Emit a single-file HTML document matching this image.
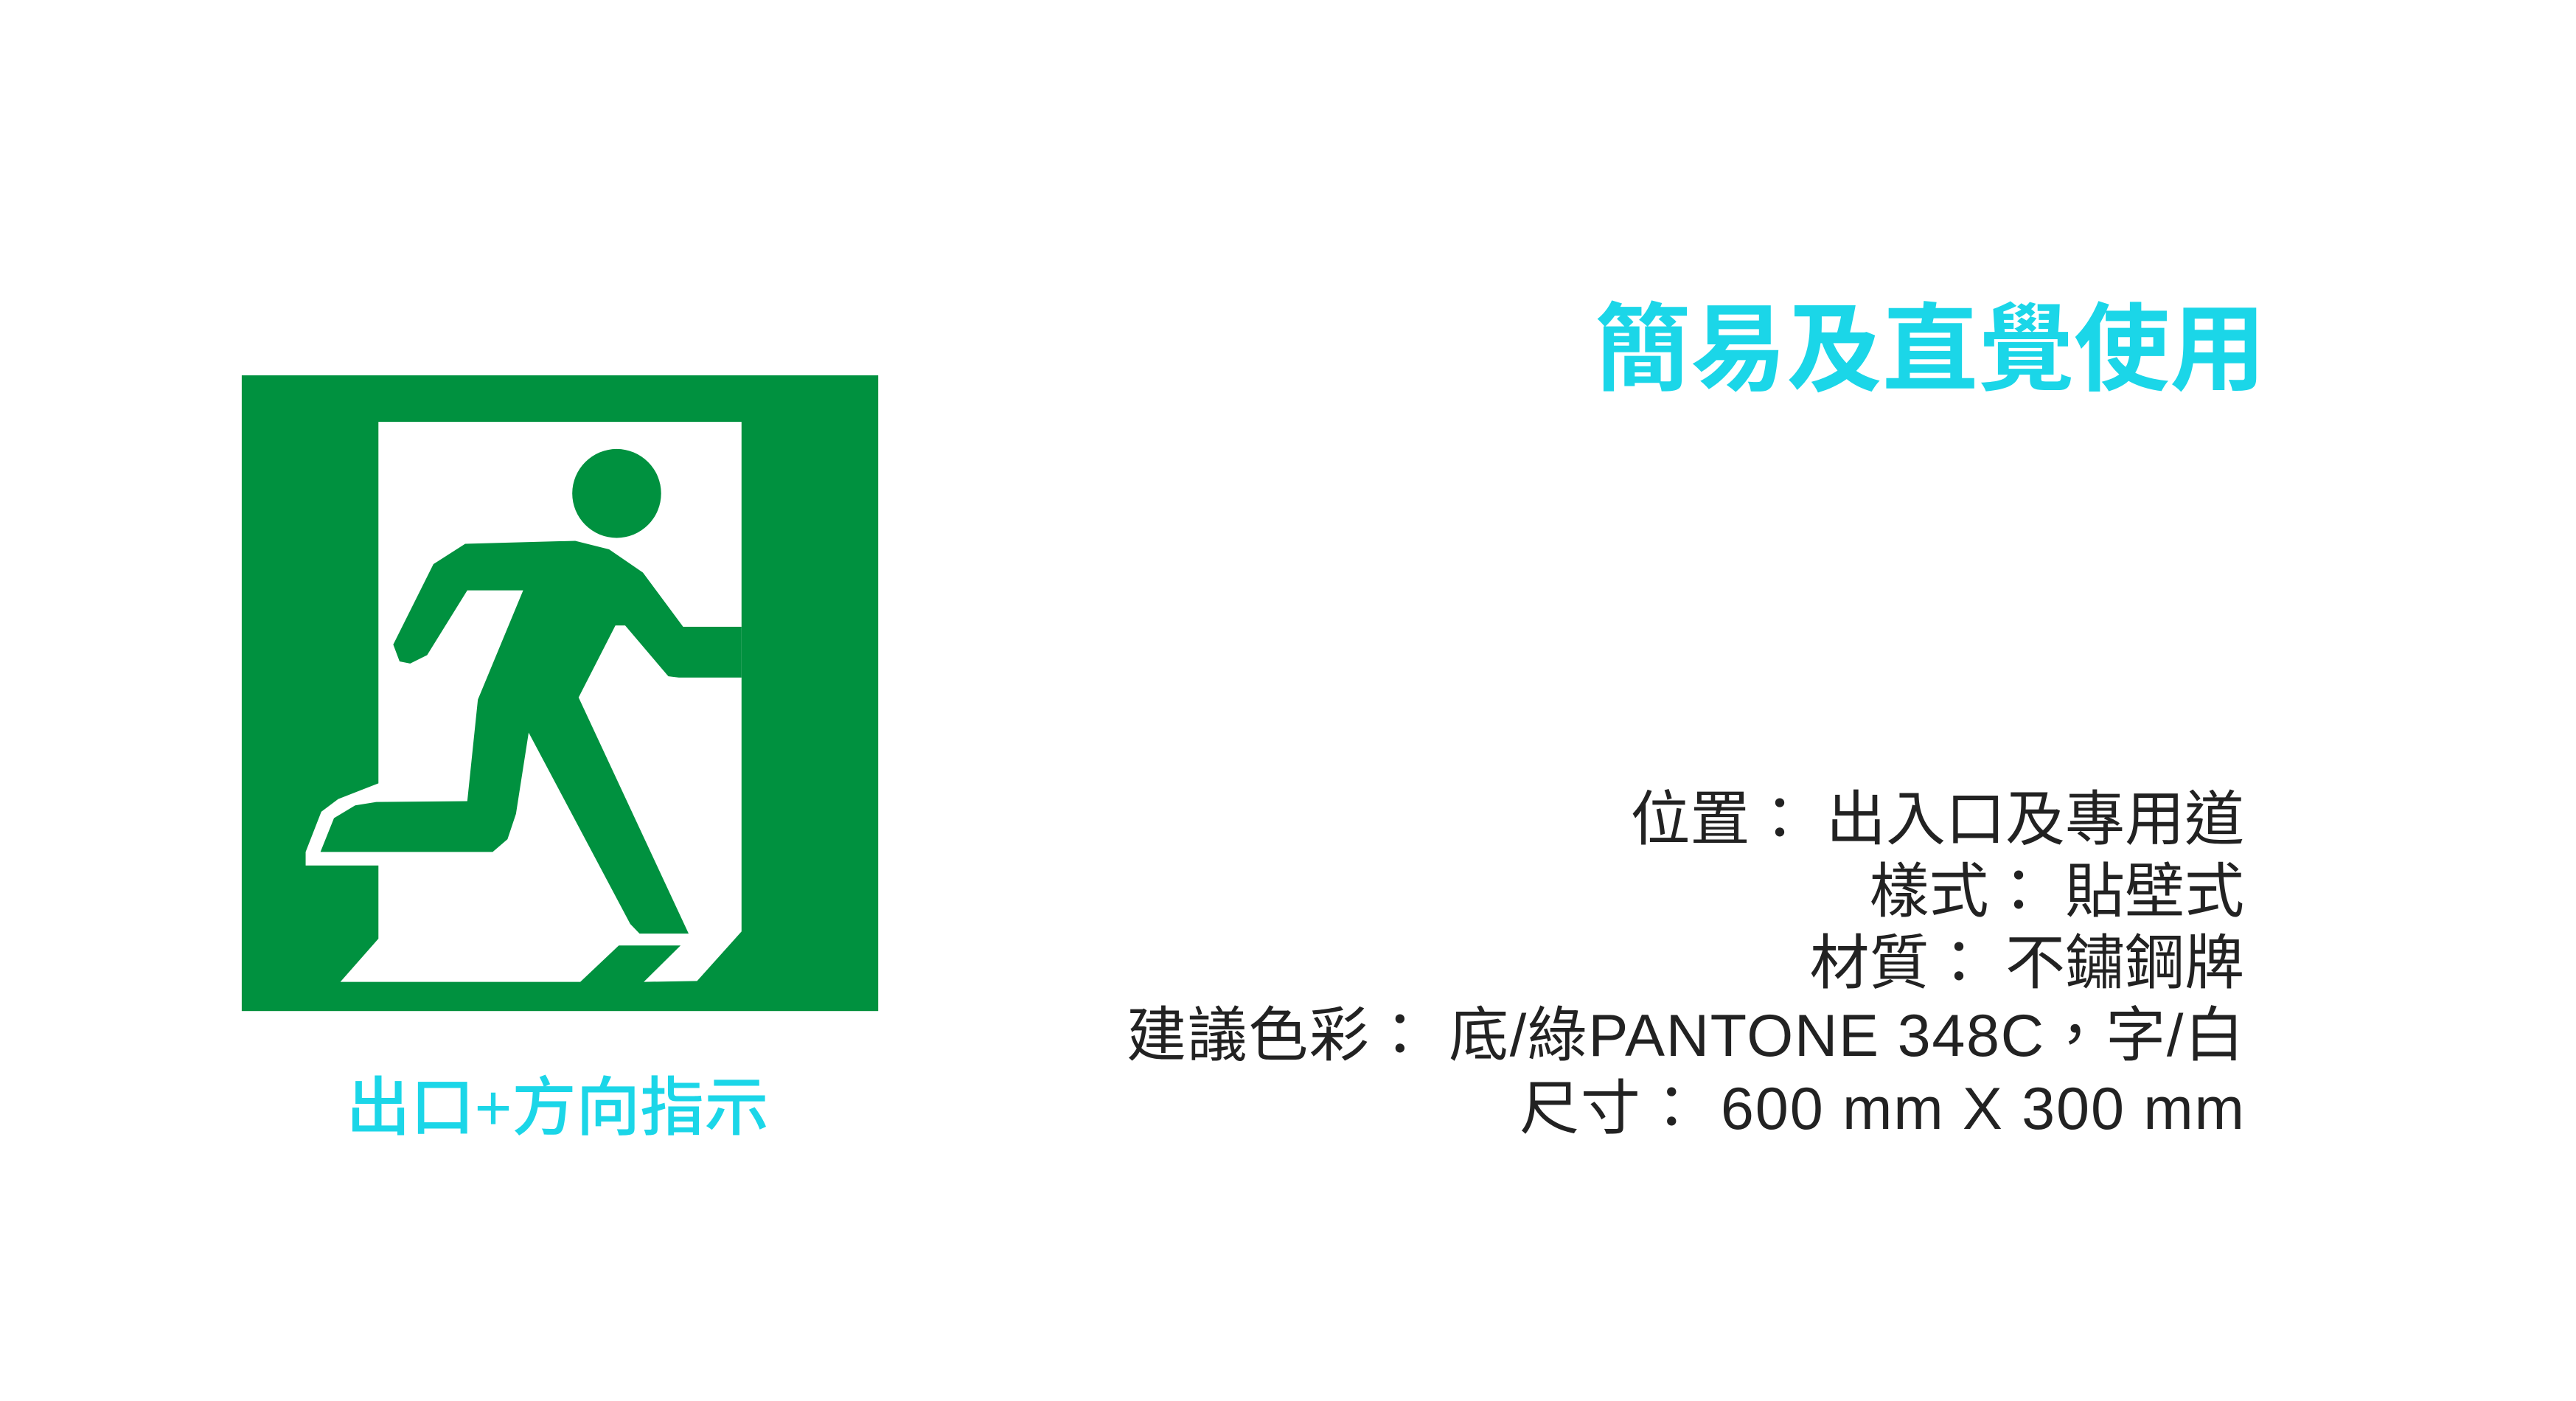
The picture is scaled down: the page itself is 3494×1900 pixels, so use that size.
<!DOCTYPE html>
<html><head><meta charset="utf-8"><style>html,body{margin:0;padding:0;background:#fff}svg{display:block}</style></head>
<body>
<svg width="3494" height="1900" viewBox="0 0 3494 1900" xmlns="http://www.w3.org/2000/svg">
<rect width="3494" height="1900" fill="#fff"/>
<g transform="translate(321,501) scale(0.574)">
  <rect x="12" y="14" width="1504" height="1502" fill="#00913f"/>
  <polygon fill="#fff" points="335,124 1193,124 1193,1328 1088,1445 962,1447 1049,1361 903,1361 812,1447 245,1447 335,1345 335,1172 163,1172 163,1140 200,1045 240,1015 335,978"/>
  <circle cx="898" cy="293" r="105" fill="#00913f"/>
  <polygon fill="#00913f" points="370,650 465,460 540,412 800,405 880,425 960,480 1055,608 1193,608 1193,728 1045,728 1020,725 918,605 895,605 808,775 1068,1333 952,1333 930,1310 690,858 660,1050 640,1110 605,1140 198,1140 230,1060 280,1030 330,1022 545,1020 570,780 677,522 545,522 450,675 410,695 385,690"/>
</g>
<text x="756" y="1532" text-anchor="middle" font-family="'Liberation Sans','Noto Sans CJK TC',sans-serif" font-size="87" font-weight="500" fill="#1bd6e8">出口+方向指示</text>
<text x="3073" y="519" text-anchor="end" font-family="'Liberation Sans','Noto Sans CJK TC',sans-serif" font-size="130" font-weight="bold" fill="#1bd6e8">簡易及直覺使用</text>
<g font-family="'Liberation Sans','Noto Sans CJK TC',sans-serif" font-size="81" fill="#222" text-anchor="end" xml:space="preserve">
  <text x="3044" y="1139">位置： 出入口及專用道</text>
  <text x="3044" y="1237">樣式： 貼壁式</text>
  <text x="3044" y="1334">材質： 不鏽鋼牌</text>
  <text x="3044" y="1432" textLength="1516" lengthAdjust="spacing">建議色彩： 底/綠PANTONE 348C，字/白</text>
  <text x="3044" y="1531" textLength="983" lengthAdjust="spacing">尺寸： 600 mm X 300 mm</text>
</g>
</svg>
</body></html>
